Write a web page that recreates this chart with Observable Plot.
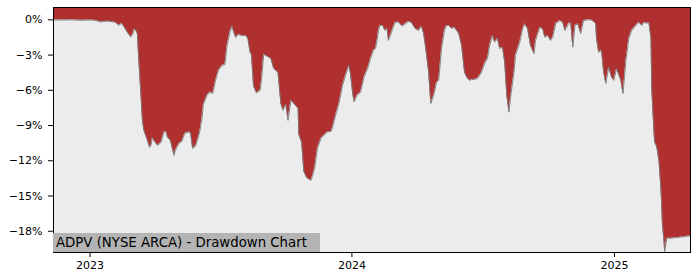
<!DOCTYPE html>
<html>
<head>
<meta charset="utf-8">
<script src="https://cdn.jsdelivr.net/npm/d3@7"></script>
<script src="https://cdn.jsdelivr.net/npm/@observablehq/plot@0.6"></script>
<style>
  html, body { margin: 0; padding: 0; background: #ffffff; }
  #wrap { position: relative; width: 700px; height: 280px; font-family: "DejaVu Sans", sans-serif; }
  #title {
    position: absolute; left: 53px; top: 233px; width: 267px; height: 19px;
    background: #b4b4b4; color: #000; font-size: 13.3px; line-height: 19px;
    padding-left: 3px; box-sizing: border-box; white-space: nowrap;
  }
</style>
</head>
<body>
<div id="wrap"><div id="title">ADPV (NYSE ARCA) - Drawdown Chart</div></div>
<script>
const titleText = "ADPV (NYSE ARCA) - Drawdown Chart";
const dates = [
"2022-11-11","2022-11-21","2022-12-05","2022-12-19","2023-01-02","2023-01-09","2023-01-16","2023-01-20","2023-01-26","2023-02-03",
"2023-02-06","2023-02-10","2023-02-14","2023-02-18","2023-02-23","2023-02-27","2023-03-02","2023-03-03","2023-03-06","2023-03-08",
"2023-03-10","2023-03-13","2023-03-15","2023-03-17","2023-03-20","2023-03-22","2023-03-25","2023-03-27","2023-03-29","2023-04-01",
"2023-04-05","2023-04-10","2023-04-14","2023-04-17","2023-04-19","2023-04-23","2023-04-28","2023-04-30","2023-05-05","2023-05-09",
"2023-05-13","2023-05-17","2023-05-21","2023-05-24","2023-05-28","2023-05-31","2023-06-03","2023-06-06","2023-06-08","2023-06-13",
"2023-06-17","2023-06-21","2023-06-25","2023-06-29","2023-07-04","2023-07-08","2023-07-11","2023-07-15","2023-07-18","2023-07-20",
"2023-07-23","2023-07-27","2023-07-31","2023-08-06","2023-08-09","2023-08-12","2023-08-14","2023-08-17","2023-08-21","2023-08-26",
"2023-08-28","2023-08-31","2023-09-03","2023-09-07","2023-09-10","2023-09-14","2023-09-20","2023-09-24","2023-09-27","2023-10-01",
"2023-10-04","2023-10-08","2023-10-12","2023-10-18","2023-10-19","2023-10-23","2023-10-26","2023-10-29","2023-10-31","2023-11-05",
"2023-11-07","2023-11-10","2023-11-14","2023-11-19","2023-11-23","2023-11-28","2023-12-03","2023-12-05","2023-12-10","2023-12-14",
"2023-12-19","2023-12-23","2023-12-28","2023-12-30","2024-01-02","2024-01-04","2024-01-08","2024-01-13","2024-01-18","2024-01-23",
"2024-01-27","2024-01-31","2024-02-03","2024-02-06","2024-02-07","2024-02-09","2024-02-13","2024-02-16","2024-02-19","2024-02-21",
"2024-02-26","2024-03-01","2024-03-06","2024-03-11","2024-03-15","2024-03-20","2024-03-24","2024-03-29","2024-04-03","2024-04-07",
"2024-04-10","2024-04-13","2024-04-17","2024-04-20","2024-04-24","2024-04-28","2024-05-01","2024-05-05","2024-05-09","2024-05-12",
"2024-05-15","2024-05-19","2024-05-23","2024-05-26","2024-05-29","2024-06-02","2024-06-06","2024-06-09","2024-06-13","2024-06-16",
"2024-06-19","2024-06-24","2024-06-29","2024-07-04","2024-07-08","2024-07-11","2024-07-15","2024-07-18","2024-07-22","2024-07-25",
"2024-07-29","2024-08-01","2024-08-04","2024-08-07","2024-08-09","2024-08-14","2024-08-16","2024-08-22","2024-08-26","2024-08-29",
"2024-09-02","2024-09-06","2024-09-11","2024-09-13","2024-09-19","2024-09-23","2024-09-26","2024-09-30","2024-10-04","2024-10-07",
"2024-10-11","2024-10-17","2024-10-21","2024-10-24","2024-10-29","2024-11-01","2024-11-04","2024-11-07","2024-11-11","2024-11-15",
"2024-11-19","2024-11-25","2024-11-29","2024-12-03","2024-12-06","2024-12-07","2024-12-10","2024-12-14","2024-12-17","2024-12-20",
"2024-12-24","2024-12-28","2024-12-31","2025-01-04","2025-01-10","2025-01-13","2025-01-17","2025-01-21","2025-01-25","2025-01-31",
"2025-02-04","2025-02-08","2025-02-12","2025-02-15","2025-02-18","2025-02-21","2025-02-22","2025-02-25","2025-02-26","2025-03-01",
"2025-03-04","2025-03-07","2025-03-09","2025-03-11","2025-03-12","2025-03-15","2025-03-20","2025-03-27","2025-04-05","2025-04-12",
"2025-04-17"
];
const drawdown = [
0,-0.02,0,-0.04,-0.02,-0.05,-0.19,-0.14,-0.12,-0.19,
-0.23,-0.48,-0.29,-0.65,-1.16,-1.46,-1.16,-0.78,-0.91,-1.21,
-3.46,-6.44,-8.56,-9.41,-9.92,-10.26,-10.86,-10.69,-10.01,-10.35,
-10.69,-10.43,-9.58,-9.50,-10.01,-10.26,-11.54,-11.11,-10.52,-10.35,
-9.67,-9.58,-9.58,-10.94,-10.77,-10.18,-9.50,-8.39,-7.20,-6.44,
-6.14,-6.27,-5.16,-4.31,-3.89,-3.80,-2.19,-1.04,-0.53,-0.99,
-1.51,-1.25,-1.34,-1.34,-1.59,-2.74,-2.95,-5.67,-6.22,-6.01,
-5.16,-2.95,-3.04,-3.18,-3.29,-4.14,-4.48,-7.12,-7.71,-7.20,
-8.56,-6.86,-7.12,-7.54,-9.75,-10.43,-12.90,-13.32,-13.50,-13.66,
-13.32,-12.64,-10.94,-10.09,-9.84,-9.54,-9.50,-9.16,-7.97,-7.12,
-5.59,-4.74,-3.89,-4.57,-6.18,-6.99,-6.44,-6.18,-4.86,-4.14,
-3.29,-2.61,-2.44,-1.42,-0.91,-0.48,-0.48,-0.91,-0.74,-1.76,
-0.91,-0.23,-0.19,-0.54,-0.36,-0.14,-0.23,-0.74,-0.91,-0.54,
-1.16,-2.44,-4.46,-7.12,-6.44,-5.33,-5.16,-2.44,-0.91,-0.48,
-0.48,-0.74,-0.65,-0.91,-1.16,-2.19,-4.46,-4.88,-5.16,-5.08,
-5.08,-4.99,-4.57,-3.72,-3.29,-2.19,-1.34,-1.90,-1.59,-2.44,
-2.33,-3.61,-6.44,-7.86,-6.69,-4.46,-3.04,-1.90,-0.77,-0.34,
-0.77,-2.19,-2.89,-1.76,-0.63,-0.77,-1.48,-1.34,-1.76,-1.48,
-0.34,-0.06,-0.23,-0.91,-0.34,-0.23,-2.33,-0.48,-0.34,-1.16,
-0.06,0,0,-0.14,-0.34,-1.59,-2.76,-2.61,-4.46,-5.42,
-4.03,-4.88,-5.16,-4.17,-5.16,-6.27,-3.46,-1.59,-0.91,-0.48,
-0.20,-0.48,-0.20,-0.31,-0.20,-1.59,-5.84,-9.41,-10.41,-10.83,
-11.96,-14.52,-17.49,-18.77,-19.74,-18.60,-18.60,-18.55,-18.49,-18.43,
-18.38
];
const xTickDates = ["2023-01-01","2024-01-01","2025-01-01"];
const yTickValues = [0,-3,-6,-9,-12,-15,-18];
const xDomain = ["2022-11-11","2025-04-17"];
const yMin = -19.81, yMax = 1.05;

const parse = d3.utcParse("%Y-%m-%d");
const data = dates.map((d, i) => ({date: parse(d), dd: drawdown[i]}));
const pctFmt = d => (d < 0 ? "\u2212" : "") + Math.abs(d) + "%";

const chart = Plot.plot({
  width: 700,
  height: 280,
  marginLeft: 53,
  marginRight: 10,
  marginTop: 7,
  marginBottom: 28,
  style: {fontFamily: "DejaVu Sans, sans-serif", fontSize: "11px", background: "white", color: "#000"},
  x: {type: "utc", domain: xDomain.map(parse), label: null},
  y: {domain: [yMin, yMax], label: null},
  marks: [
    Plot.frame({fill: "#b03030"}),
    Plot.areaY(data, {x: "date", y1: () => yMin, y2: "dd", fill: "#ececec", clip: true}),
    Plot.lineY(data, {x: "date", y: "dd", stroke: "#7a7a7a", strokeWidth: 0.9, clip: true}),
    Plot.frame({stroke: "#000", strokeWidth: 1}),
    Plot.axisX({ticks: xTickDates.map(parse), tickFormat: d3.utcFormat("%Y"), tickSize: 5, tickPadding: 4, label: null, fontSize: 11}),
    Plot.axisY({ticks: yTickValues, tickFormat: pctFmt, tickSize: 5, tickPadding: 6, label: null, fontSize: 11})
  ]
});
document.getElementById("wrap").insertBefore(chart, document.getElementById("title"));
document.getElementById("title").textContent = titleText;
</script>
</body>
</html>
